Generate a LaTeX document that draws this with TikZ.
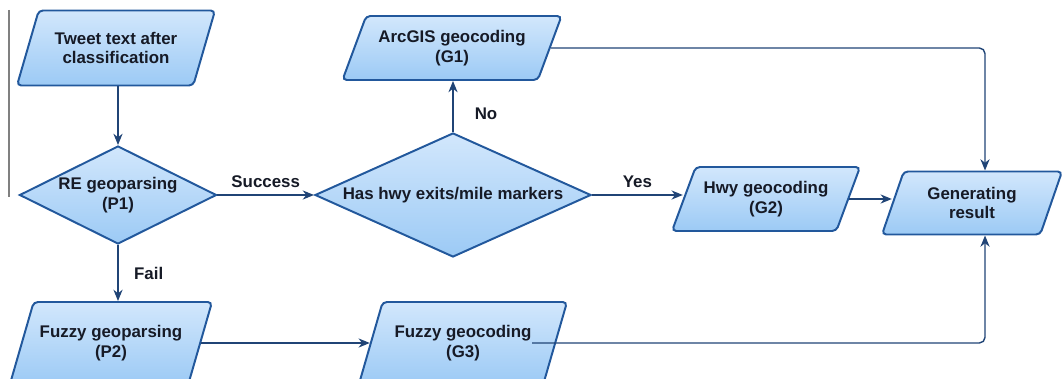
\documentclass[tikz,border=0pt]{standalone}
\usepackage{fontspec}
\setmainfont{Liberation Sans}
\usetikzlibrary{shapes.geometric,arrows.meta,calc}
\definecolor{boxtop}{RGB}{210,231,252}
\definecolor{boxbot}{RGB}{156,202,245}
\definecolor{boxline}{RGB}{34,88,156}
\definecolor{flowline}{RGB}{32,68,118}
\definecolor{inktext}{RGB}{22,26,38}
\begin{document}
\begin{tikzpicture}[x=0.025cm, y=-0.025cm,
  every node/.style={font=\fontsize{12}{14}\selectfont\bfseries, text=inktext},
  iobox/.style={trapezium, trapezium left angle=60, trapezium right angle=120,
    trapezium stretches body, draw=boxline, line width=1.4pt, rounded corners=3pt,
    top color=boxtop, bottom color=boxbot, align=center, inner xsep=0pt, inner ysep=2pt},
  decision/.style={diamond, aspect=2.2, draw=boxline, line width=1.4pt,
    top color=boxtop, bottom color=boxbot, align=center, inner sep=0pt},
  flow/.style={draw=flowline, line width=1pt, -{Stealth[length=8pt,width=6.5pt,inset=2.5pt]}},
  flowlabel/.style={inner sep=1pt}]
\useasboundingbox (0,0) rectangle (1062,379);
\draw[gray, line width=1pt] (9,10) -- (9,197);

\node[iobox, minimum width=4.95cm, minimum height=1.875cm] (tweet) at (116,48) {Tweet text after\\classification};
\node[decision, minimum width=4.7cm, minimum height=2.45cm] (p1) at (118,195) {RE geoparsing\\(P1)};
\node[decision, minimum width=6.9cm, minimum height=3.1cm] (hwy) at (453,195) {Has hwy exits/mile markers};
\node[iobox, minimum width=5.475cm, minimum height=1.6cm] (g1) at (452,48) {ArcGIS geocoding\\(G1)};
\node[iobox, minimum width=4.7cm, minimum height=1.6cm] (g2) at (766,199) {Hwy geocoding\\(G2)};
\node[iobox, minimum width=4.5cm, minimum height=1.575cm] (gen) at (972,203) {Generating\\result};
\node[iobox, minimum width=5.05cm, minimum height=2.05cm] (p2) at (111,343) {Fuzzy geoparsing\\(P2)};
\node[iobox, minimum width=5.2cm, minimum height=2.05cm] (g3) at (463,343) {Fuzzy geocoding\\(G3)};

\coordinate (gentop) at ($(gen.north)+(13,0)$);
\coordinate (genbot) at (gentop |- gen.south);
\coordinate (g3out) at ($(g3.center)+(69,0)$);

\draw[flow] (p1.north |- tweet.south) -- (p1.north);
\draw[flow] (p1.east) -- (hwy.west) node[flowlabel, midway, above=4pt] {Success};
\draw[flow] (p1.south) -- (p1.south |- p2.north) node[flowlabel, midway, right=10pt] {Fail};
\draw[flow] (hwy.north) -- (hwy.north |- g1.south) node[flowlabel, pos=0.35, right=14pt] {No};
\draw[flow] (hwy.east) -- (hwy.east -| g2.west) node[flowlabel, midway, above=4pt] {Yes};
\draw[flow] (g2.east) -- (g2.east -| gen.west);
\draw[flow] (p2.east) -- (p2.east -| g3.west);
\draw[flow, rounded corners=4pt] (g1.east) -| (gentop);
\draw[flow, rounded corners=4pt] (g3out) -| (genbot);
\end{tikzpicture}
\end{document}
